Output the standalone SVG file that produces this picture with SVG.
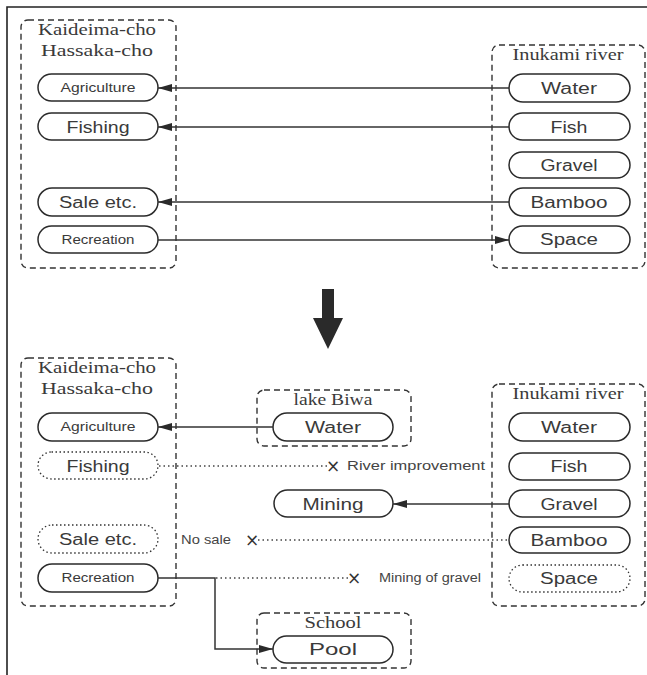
<svg xmlns="http://www.w3.org/2000/svg" width="647" height="675" viewBox="0 0 647 675">
<defs>
<marker id="ah" viewBox="0 0 14 8" refX="14" refY="4" markerWidth="14" markerHeight="8" markerUnits="userSpaceOnUse" orient="auto">
<path d="M0,0 L14,4 L0,8 Z" fill="#2a2a2a"/>
</marker>
<style>
.frame{fill:none;stroke:#222;stroke-width:1.6}
.grp{fill:none;stroke:#333;stroke-width:1.4;stroke-dasharray:6 4}
.pill{fill:#fff;stroke:#2a2a2a;stroke-width:1.5}
.pilld{fill:#fff;stroke:#333;stroke-width:1.3;stroke-dasharray:1.5 2.5}
.title{font-family:"Liberation Serif",serif;font-size:17px;fill:#3a3a3a;text-anchor:middle}
.big{font-family:"Liberation Sans",Arial,sans-serif;font-size:16px;fill:#3a3a3a;text-anchor:middle}
.sm{font-family:"Liberation Sans",Arial,sans-serif;font-size:12px;fill:#3a3a3a;text-anchor:middle}
.ann{font-family:"Liberation Sans",Arial,sans-serif;font-size:12.5px;fill:#444}
.x{font-family:"DejaVu Sans",sans-serif;font-size:17px;fill:#333;text-anchor:middle}
.ln{fill:none;stroke:#333;stroke-width:1.5}
.dot{fill:none;stroke:#444;stroke-width:1.3;stroke-dasharray:1.5 3}
</style>
</defs>
<path class="frame" d="M7,675 V7 H647"/>

<!-- TOP SECTION -->
<g id="top-left-group">
<rect class="grp" x="21" y="20" width="155" height="248" rx="7"/>
<text class="title" x="97" y="35" textLength="118" lengthAdjust="spacingAndGlyphs">Kaideima-cho</text>
<text class="title" x="97" y="56" textLength="112" lengthAdjust="spacingAndGlyphs">Hassaka-cho</text>
</g>
<g id="top-agriculture"><rect class="pill" x="38" y="74" width="120" height="27" rx="13.5"/><text class="sm" x="98" y="92" textLength="75" lengthAdjust="spacingAndGlyphs">Agriculture</text></g>
<g id="top-fishing"><rect class="pill" x="38" y="113" width="120" height="27" rx="13.5"/><text class="big" x="98" y="133" textLength="63" lengthAdjust="spacingAndGlyphs">Fishing</text></g>
<g id="top-sale"><rect class="pill" x="38" y="188" width="120" height="28" rx="14"/><text class="big" x="98" y="208" textLength="78" lengthAdjust="spacingAndGlyphs">Sale etc.</text></g>
<g id="top-recreation"><rect class="pill" x="38" y="226" width="120" height="27" rx="13.5"/><text class="sm" x="98" y="244" textLength="73" lengthAdjust="spacingAndGlyphs">Recreation</text></g>

<g id="top-right-group">
<rect class="grp" x="492" y="45" width="153" height="223" rx="7"/>
<text class="title" x="568" y="60" textLength="111" lengthAdjust="spacingAndGlyphs">Inukami river</text>
</g>
<g id="top-water"><rect class="pill" x="509" y="74" width="121" height="28" rx="14"/><text class="big" x="569" y="94" textLength="56" lengthAdjust="spacingAndGlyphs">Water</text></g>
<g id="top-fish"><rect class="pill" x="509" y="113" width="121" height="27" rx="13.5"/><text class="big" x="569" y="133" textLength="37" lengthAdjust="spacingAndGlyphs">Fish</text></g>
<g id="top-gravel"><rect class="pill" x="509" y="152" width="121" height="26" rx="13"/><text class="big" x="569" y="171" textLength="57" lengthAdjust="spacingAndGlyphs">Gravel</text></g>
<g id="top-bamboo"><rect class="pill" x="509" y="188" width="121" height="28" rx="14"/><text class="big" x="569" y="208" textLength="77" lengthAdjust="spacingAndGlyphs">Bamboo</text></g>
<g id="top-space"><rect class="pill" x="509" y="226" width="121" height="27" rx="13.5"/><text class="big" x="569" y="245" textLength="58" lengthAdjust="spacingAndGlyphs">Space</text></g>

<!-- big down arrow -->
<g id="transition-arrow">
<path d="M322,289 H334 V318 H343 L328,349 L313,318 H322 Z" fill="#2a2a2a"/>
</g>

<!-- BOTTOM SECTION -->
<g id="bot-left-group">
<rect class="grp" x="21" y="358" width="155" height="248" rx="7"/>
<text class="title" x="97" y="373" textLength="118" lengthAdjust="spacingAndGlyphs">Kaideima-cho</text>
<text class="title" x="97" y="394" textLength="112" lengthAdjust="spacingAndGlyphs">Hassaka-cho</text>
</g>
<g id="bot-agriculture"><rect class="pill" x="38" y="413" width="120" height="28" rx="14"/><text class="sm" x="98" y="431" textLength="75" lengthAdjust="spacingAndGlyphs">Agriculture</text></g>
<g id="bot-fishing"><rect class="pilld" x="38" y="452" width="120" height="27" rx="13.5"/><text class="big" x="98" y="472" textLength="63" lengthAdjust="spacingAndGlyphs">Fishing</text></g>
<g id="bot-sale"><rect class="pilld" x="38" y="525" width="120" height="28" rx="14"/><text class="big" x="98" y="545" textLength="78" lengthAdjust="spacingAndGlyphs">Sale etc.</text></g>
<g id="bot-recreation"><rect class="pill" x="38" y="564" width="120" height="28" rx="14"/><text class="sm" x="98" y="582" textLength="73" lengthAdjust="spacingAndGlyphs">Recreation</text></g>

<g id="lake-biwa-group">
<rect class="grp" x="257" y="390" width="154" height="56" rx="7"/>
<text class="title" x="333" y="405" textLength="79" lengthAdjust="spacingAndGlyphs">lake Biwa</text>
</g>
<g id="lake-water"><rect class="pill" x="273" y="413" width="120" height="28" rx="14"/><text class="big" x="333" y="433" textLength="56" lengthAdjust="spacingAndGlyphs">Water</text></g>

<g id="mining"><rect class="pill" x="274" y="490" width="119" height="27" rx="13.5"/><text class="big" x="333" y="510" textLength="61" lengthAdjust="spacingAndGlyphs">Mining</text></g>

<g id="school-group">
<rect class="grp" x="257" y="613" width="154" height="55" rx="7"/>
<text class="title" x="333" y="628" textLength="57" lengthAdjust="spacingAndGlyphs">School</text>
</g>
<g id="pool"><rect class="pill" x="273" y="636" width="120" height="27" rx="13.5"/><text class="big" x="333" y="655" textLength="48" lengthAdjust="spacingAndGlyphs">Pool</text></g>

<g id="bot-right-group">
<rect class="grp" x="492" y="384" width="153" height="222" rx="7"/>
<text class="title" x="568" y="399" textLength="111" lengthAdjust="spacingAndGlyphs">Inukami river</text>
</g>
<g id="bot-water"><rect class="pill" x="509" y="413" width="121" height="28" rx="14"/><text class="big" x="569" y="433" textLength="56" lengthAdjust="spacingAndGlyphs">Water</text></g>
<g id="bot-fish"><rect class="pill" x="509" y="453" width="121" height="27" rx="13.5"/><text class="big" x="569" y="472" textLength="37" lengthAdjust="spacingAndGlyphs">Fish</text></g>
<g id="bot-gravel"><rect class="pill" x="509" y="490" width="121" height="27" rx="13.5"/><text class="big" x="569" y="510" textLength="57" lengthAdjust="spacingAndGlyphs">Gravel</text></g>
<g id="bot-bamboo"><rect class="pill" x="509" y="527" width="121" height="26" rx="13"/><text class="big" x="569" y="546" textLength="77" lengthAdjust="spacingAndGlyphs">Bamboo</text></g>
<g id="bot-space"><rect class="pilld" x="509" y="565" width="121" height="27" rx="13.5"/><text class="big" x="569" y="584" textLength="58" lengthAdjust="spacingAndGlyphs">Space</text></g>

<!-- CONNECTORS -->
<g id="connectors">
<line class="ln" x1="509" y1="88" x2="158" y2="88" marker-end="url(#ah)"/>
<line class="ln" x1="509" y1="127" x2="158" y2="127" marker-end="url(#ah)"/>
<line class="ln" x1="509" y1="202" x2="158" y2="202" marker-end="url(#ah)"/>
<line class="ln" x1="158" y1="240" x2="509" y2="240" marker-end="url(#ah)"/>

<line class="ln" x1="273" y1="427" x2="158" y2="427" marker-end="url(#ah)"/>
<line class="ln" x1="509" y1="504" x2="393" y2="504" marker-end="url(#ah)"/>
<path class="ln" d="M158,578 H215 V649 H273" marker-end="url(#ah)"/>

<line class="dot" x1="159" y1="466" x2="327" y2="466"/>
<text class="x" x="333" y="472">×</text>
<text class="ann" x="347" y="470" textLength="138" lengthAdjust="spacingAndGlyphs">River improvement</text>

<line class="dot" x1="258" y1="540" x2="509" y2="540"/>
<text class="x" x="252" y="546">×</text>
<text class="ann" x="181" y="544" textLength="50" lengthAdjust="spacingAndGlyphs">No sale</text>

<line class="dot" x1="216" y1="578" x2="348" y2="578"/>
<text class="x" x="354" y="584">×</text>
<text class="ann" x="379" y="582" textLength="102" lengthAdjust="spacingAndGlyphs">Mining of gravel</text>
</g>
</svg>
